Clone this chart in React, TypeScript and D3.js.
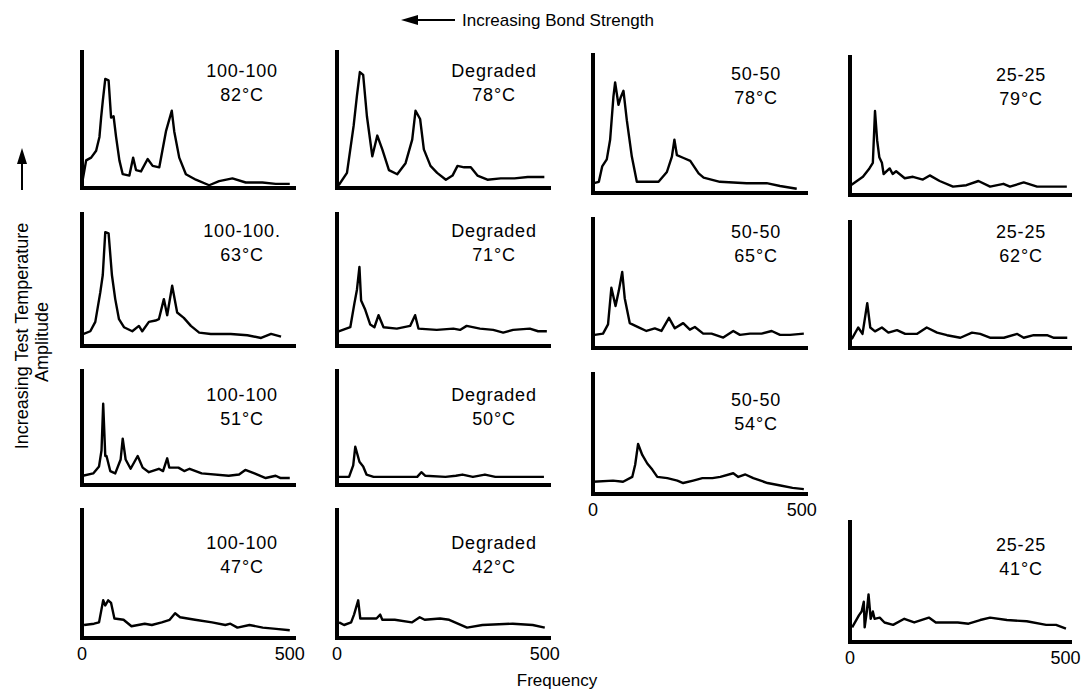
import React, { useEffect, useRef } from 'react';
import * as d3 from 'd3';

type Pt = [number, number];

// [frequency, relative amplitude 0-100]
const s100_82: Pt[] = [[0,3],[10,20],[22,22],[34,27],[42,37],[46,51],[50,63],[56,79],[64,78],[70,51],[76,52],[82,37],[90,20],[98,10],[114,9],[123,22],[130,13],[142,12],[158,21],[170,16],[186,15],[202,41],[216,56],[222,41],[234,22],[250,10],[274,6],[306,2],[330,5],[362,7],[394,4],[434,4],[466,3],[500,3]];
const sDeg_78: Pt[] = [[4,2],[24,11],[40,45],[48,67],[55,84],[63,82],[72,52],[85,23],[97,38],[109,28],[125,13],[145,10],[165,18],[181,35],[189,56],[200,50],[209,28],[225,16],[241,11],[262,6],[278,9],[290,16],[306,15],[322,15],[338,9],[362,6],[394,7],[427,7],[459,8],[499,8]];
const s50_78: Pt[] = [[2,7],[14,8],[22,19],[33,24],[41,38],[49,69],[53,79],[61,63],[66,68],[73,73],[81,52],[93,26],[105,8],[129,8],[157,8],[177,15],[189,26],[195,38],[201,27],[217,25],[233,23],[253,14],[265,11],[304,8],[368,7],[416,7],[448,5],[488,3]];
const s25_79: Pt[] = [[2,7],[30,13],[45,19],[53,23],[58,60],[63,39],[68,27],[74,23],[78,15],[92,19],[99,15],[107,17],[127,12],[146,13],[169,11],[185,14],[208,10],[239,6],[270,7],[298,10],[325,6],[356,8],[371,6],[403,9],[434,6],[472,6],[503,6]];

const s100_63: Pt[] = [[4,9],[20,11],[32,18],[44,40],[50,53],[56,85],[64,84],[72,53],[80,35],[89,20],[101,14],[121,11],[137,15],[145,11],[161,18],[177,19],[185,20],[197,35],[205,23],[217,45],[229,25],[245,21],[262,15],[282,10],[310,9],[358,9],[398,8],[431,6],[455,9],[479,7]];
const sDeg_71: Pt[] = [[4,11],[32,14],[42,32],[48,42],[54,59],[58,34],[68,27],[80,16],[90,14],[100,23],[112,14],[144,13],[176,15],[188,23],[196,13],[240,12],[280,13],[296,12],[312,15],[344,13],[376,12],[400,10],[424,12],[464,13],[484,11],[505,11]];
const s50_65: Pt[] = [[4,10],[24,11],[36,18],[44,46],[54,32],[62,44],[70,58],[76,38],[88,19],[108,16],[128,13],[148,15],[164,13],[182,23],[196,15],[216,19],[232,14],[244,16],[264,11],[284,11],[312,8],[336,13],[352,10],[376,11],[404,11],[428,13],[448,10],[472,10],[505,11]];
const s25_62: Pt[] = [[4,7],[19,16],[29,11],[40,35],[47,16],[58,13],[74,16],[89,12],[109,14],[128,11],[155,11],[178,16],[202,12],[225,10],[256,8],[283,12],[302,11],[326,8],[357,8],[388,11],[403,8],[426,10],[457,10],[473,8],[504,8]];

const s100_51: Pt[] = [[2,8],[27,10],[41,16],[47,30],[51,70],[56,25],[59,25],[68,12],[80,10],[93,22],[98,40],[105,22],[117,14],[134,25],[146,15],[161,11],[185,14],[195,12],[205,23],[210,15],[232,15],[246,12],[259,14],[288,10],[353,8],[378,9],[393,13],[415,10],[442,6],[466,8],[478,6],[500,6]];
const sDeg_50: Pt[] = [[4,7],[29,7],[39,17],[44,33],[54,20],[63,16],[71,9],[88,7],[139,7],[193,7],[203,11],[212,8],[261,7],[286,8],[302,9],[327,7],[356,9],[381,7],[425,7],[466,7],[498,7]];
const s50_54: Pt[] = [[0,10],[48,11],[72,10],[94,14],[101,24],[108,41],[118,32],[130,25],[142,20],[154,14],[178,13],[202,11],[216,9],[240,11],[262,13],[286,13],[305,14],[336,17],[348,14],[365,16],[384,13],[418,9],[449,7],[478,5],[505,4]];

const s100_47: Pt[] = [[5,10],[29,11],[41,12],[51,29],[56,25],[63,29],[70,27],[78,15],[100,14],[119,9],[151,11],[168,10],[192,12],[211,14],[224,19],[236,16],[272,14],[313,12],[345,10],[357,11],[374,8],[403,10],[435,8],[467,7],[500,6]];
const sDeg_42: Pt[] = [[5,12],[17,10],[34,12],[41,18],[51,29],[56,15],[70,15],[95,15],[104,18],[109,14],[139,14],[180,12],[199,16],[211,14],[248,15],[270,14],[313,8],[350,10],[423,11],[471,10],[500,8]];
const s25_41: Pt[] = [[5,12],[21,22],[27,25],[32,33],[34,12],[39,25],[43,39],[48,19],[53,25],[57,19],[69,20],[80,16],[100,14],[126,19],[149,16],[183,20],[199,16],[250,16],[275,15],[302,18],[325,20],[364,18],[410,17],[455,14],[478,14],[501,11]];

const freqTicks = [0, 500];

const panels = [
  { name: '100-100', temp: '82°C', data: s100_82, col: 0, row: 0 },
  { name: 'Degraded', temp: '78°C', data: sDeg_78, col: 1, row: 0 },
  { name: '50-50', temp: '78°C', data: s50_78, col: 2, row: 0 },
  { name: '25-25', temp: '79°C', data: s25_79, col: 3, row: 0 },
  { name: '100-100.', temp: '63°C', data: s100_63, col: 0, row: 1 },
  { name: 'Degraded', temp: '71°C', data: sDeg_71, col: 1, row: 1 },
  { name: '50-50', temp: '65°C', data: s50_65, col: 2, row: 1 },
  { name: '25-25', temp: '62°C', data: s25_62, col: 3, row: 1 },
  { name: '100-100', temp: '51°C', data: s100_51, col: 0, row: 2 },
  { name: 'Degraded', temp: '50°C', data: sDeg_50, col: 1, row: 2 },
  { name: '50-50', temp: '54°C', data: s50_54, col: 2, row: 2, ticks: true },
  { name: '100-100', temp: '47°C', data: s100_47, col: 0, row: 3, ticks: true },
  { name: 'Degraded', temp: '42°C', data: sDeg_42, col: 1, row: 3, ticks: true },
  { name: '25-25', temp: '41°C', data: s25_41, col: 3, row: 3, ticks: true },
];

// layout of the scanned grid
const colX = [82, 337, 593, 850];
const colEnd = [296, 551, 808, 1072];
const colLabel = [242, 494, 756, 1021];
const rowTop = [50, 212, 369, 508];
const rowBase = [188, 346, 485, 638];
const rowLabel = [77, 237, 401, 549];
const tweak: Record<string, { top?: number; base?: number }> = {
  '2-0': { top: 53, base: 193 },
  '3-0': { top: 55, base: 195 },
  '2-1': { top: 217, base: 348 },
  '3-1': { top: 220, base: 348 },
  '2-2': { top: 372, base: 494 },
  '3-3': { top: 520, base: 642 },
};

const W = 1090;
const H = 690;
const FONT = '"Liberation Sans", Arial, sans-serif';

export default function App() {
  const svgRef = useRef<SVGSVGElement>(null);

  useEffect(() => {
    const svg = d3.select(svgRef.current);
    svg.selectAll('*').remove();

    svg.append('rect').attr('width', W).attr('height', H).attr('fill', '#fff');

    panels.forEach(p => {
      const t = tweak[`${p.col}-${p.row}`] || {};
      const top = t.top ?? rowTop[p.row];
      const base = t.base ?? rowBase[p.row];
      const x0 = colX[p.col];
      const x1 = colEnd[p.col];

      const x = d3.scaleLinear().domain([0, 515]).range([x0, x1]);
      const y = d3.scaleLinear().domain([0, 100]).range([base, top]);

      const g = svg.append('g');

      // axes
      g.append('line')
        .attr('x1', x0).attr('x2', x0)
        .attr('y1', top).attr('y2', base + 2)
        .attr('stroke', '#000').attr('stroke-width', 4);
      g.append('line')
        .attr('x1', x0 - 2).attr('x2', x1)
        .attr('y1', base).attr('y2', base)
        .attr('stroke', '#000').attr('stroke-width', 4);

      const line = d3.line<Pt>()
        .x(d => x(d[0]))
        .y(d => y(d[1]))
        .curve(d3.curveLinear);

      g.append('path')
        .attr('d', line(p.data))
        .attr('fill', 'none')
        .attr('stroke', '#000')
        .attr('stroke-width', 2.4)
        .attr('stroke-linejoin', 'round');

      const lx = colLabel[p.col];
      const ly = rowLabel[p.row] + (base - rowBase[p.row]) * 0.5;
      g.append('text')
        .attr('x', lx).attr('y', ly)
        .attr('text-anchor', 'middle')
        .style('font-family', FONT).style('font-size', '18px')
        .style('letter-spacing', '0.8px')
        .text(p.name);
      g.append('text')
        .attr('x', lx).attr('y', ly + 24)
        .attr('text-anchor', 'middle')
        .style('font-family', FONT).style('font-size', '18px')
        .style('letter-spacing', '0.8px')
        .text(p.temp);

      if (p.ticks) {
        g.selectAll('.tick')
          .data(freqTicks)
          .enter()
          .append('text')
          .attr('x', d => x(d))
          .attr('y', base + 22)
          .attr('text-anchor', 'middle')
          .style('font-family', FONT).style('font-size', '18px')
          .text(d => d);
      }
    });

    // top: bond strength arrow
    svg.append('line')
      .attr('x1', 410).attr('x2', 455).attr('y1', 20).attr('y2', 20)
      .attr('stroke', '#000').attr('stroke-width', 2);
    svg.append('path')
      .attr('d', 'M401,20 L418,15 L418,25 Z')
      .attr('fill', '#000');
    svg.append('text')
      .attr('x', 462).attr('y', 26)
      .style('font-family', FONT).style('font-size', '17px')
      .text('Increasing Bond Strength');

    // left: temperature arrow and axis titles
    svg.append('line')
      .attr('x1', 22).attr('x2', 22).attr('y1', 190).attr('y2', 158)
      .attr('stroke', '#000').attr('stroke-width', 2);
    svg.append('path')
      .attr('d', 'M22,148 L17,164 L27,164 Z')
      .attr('fill', '#000');
    svg.append('text')
      .attr('transform', 'translate(28,336) rotate(-90)')
      .attr('text-anchor', 'middle')
      .style('font-family', FONT).style('font-size', '18px')
      .text('Increasing Test Temperature');
    svg.append('text')
      .attr('transform', 'translate(48,342) rotate(-90)')
      .attr('text-anchor', 'middle')
      .style('font-family', FONT).style('font-size', '18px')
      .text('Amplitude');

    svg.append('text')
      .attr('x', 557).attr('y', 686)
      .attr('text-anchor', 'middle')
      .style('font-family', FONT).style('font-size', '17px')
      .text('Frequency');
  }, []);

  return (
    <svg
      ref={svgRef}
      width={W}
      height={H}
      style={{ position: 'absolute', left: 0, top: 0 }}
    />
  );
}
